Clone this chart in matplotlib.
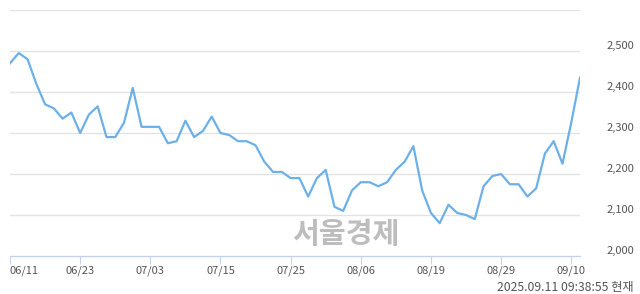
import matplotlib.pyplot as plt
from matplotlib.transforms import ScaledTranslation

plt.rcParams['font.family'] = ['Noto Sans CJK KR', 'DejaVu Sans']

dates = ['06/11', '06/12', '06/13', '06/16', '06/17', '06/18', '06/19', '06/20',
         '06/23', '06/24', '06/25', '06/26', '06/27', '06/30', '07/01', '07/02',
         '07/03', '07/04', '07/07', '07/08', '07/09', '07/10', '07/11', '07/14',
         '07/15', '07/16', '07/17', '07/18', '07/21', '07/22', '07/23', '07/24',
         '07/25', '07/28', '07/29', '07/30', '07/31', '08/01', '08/04', '08/05',
         '08/06', '08/07', '08/08', '08/11', '08/12', '08/13', '08/14', '08/18',
         '08/19', '08/20', '08/21', '08/22', '08/25', '08/26', '08/27', '08/28',
         '08/29', '09/01', '09/02', '09/03', '09/04', '09/05', '09/08', '09/09',
         '09/10', '09/11']
prices = [2470, 2495, 2480, 2420, 2370, 2360, 2335, 2350,
          2300, 2345, 2365, 2290, 2290, 2325, 2410, 2315,
          2315, 2315, 2275, 2280, 2330, 2290, 2305, 2340,
          2300, 2295, 2280, 2280, 2270, 2230, 2205, 2205,
          2190, 2190, 2145, 2190, 2210, 2120, 2110, 2160,
          2180, 2180, 2170, 2180, 2210, 2230, 2268, 2160,
          2105, 2080, 2125, 2105, 2100, 2090, 2170, 2195,
          2200, 2175, 2175, 2145, 2165, 2250, 2280, 2225,
          2325, 2435]
tick_dates = ['06/11', '06/23', '07/03', '07/15', '07/25', '08/06', '08/19', '08/29', '09/10']
y_ticks = [2000, 2100, 2200, 2300, 2400, 2500]
grid_levels = [2100, 2200, 2300, 2400, 2500, 2600]

fig = plt.figure(figsize=(6.4, 2.94), dpi=100)
ax = fig.add_axes([10 / 640, 38 / 294, 570 / 640, 246 / 294])

x = list(range(len(dates)))
for g in grid_levels:
    ax.axhline(g, color='#e3e3e3', lw=1, zorder=1)
ax.plot(x, prices, color='#6cb0ea', lw=1.6, zorder=3, solid_joinstyle='round')

ax.set_xlim(0, len(dates) - 1)
ax.set_ylim(2000, 2600)

for s in ['top', 'right', 'left']:
    ax.spines[s].set_visible(False)
ax.spines['bottom'].set_color('#c3d3ea')
ax.spines['bottom'].set_linewidth(1)

ax.set_xticks([dates.index(d) for d in tick_dates])
ax.set_xticklabels(tick_dates, fontsize=8, color='#555555')
ax.tick_params(axis='x', length=6, color='#c3d3ea', pad=1)
ax.get_xticklabels()[0].set_horizontalalignment('left')

ax.yaxis.tick_right()
ax.set_yticks(y_ticks)
ax.set_yticklabels([f'{v:,}' for v in y_ticks], fontsize=8, color='#555555')
ax.tick_params(axis='y', length=0, pad=19)
for lbl in ax.get_yticklabels():
    lbl.set_transform(lbl.get_transform() + ScaledTranslation(0, 6 / 100, fig.dpi_scale_trans))

fig.text(346 / 640, 1 - 234 / 294, '서울경제', fontsize=21, fontweight='bold',
         color='#bdbdbd', ha='center', va='center', zorder=0)
fig.text(634 / 640, 1 - 287 / 294, '2025.09.11 09:38:55 현재', fontsize=8.8,
         color='#555555', ha='right', va='center')

fig.savefig('out.png', dpi=100)
